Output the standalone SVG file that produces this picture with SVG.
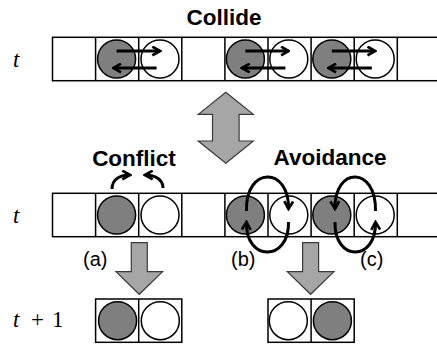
<svg xmlns="http://www.w3.org/2000/svg" width="437" height="345" viewBox="0 0 437 345">
<style>
.cell{fill:#fff;stroke:#000;stroke-width:1.5}
.g{fill:#7f7f7f;stroke:#000;stroke-width:1.5}
.w{fill:#fff;stroke:#000;stroke-width:1.5}
.arr{fill:none;stroke:#000;stroke-width:3}
.big{fill:#a6a6a6;stroke:#3a3a3a;stroke-width:1.2}
.title{font-family:"Liberation Sans",Arial,sans-serif;font-weight:bold;font-size:22.5px;fill:#000}
.lab{font-family:"Liberation Sans",Arial,sans-serif;font-size:20px;fill:#000}
.math{font-family:"Liberation Serif","Times New Roman",serif;font-size:23px;fill:#000}
</style>
<defs>
<marker id="h" viewBox="0 0 10 10" refX="8.5" refY="5" markerWidth="11" markerHeight="11" markerUnits="userSpaceOnUse" orient="auto">
<path d="M1.5,1 L8.5,5 L1.5,9" fill="none" stroke="#000" stroke-width="2.4"/>
</marker>
</defs>

<g id="labels-t">
<text class="math" x="13" y="67" font-style="italic">t</text>
<text class="math" x="13" y="223" font-style="italic">t</text>
<text class="math" x="13" y="327" font-style="italic">t</text>
<text class="math" x="31" y="327">+</text>
<text class="math" x="52" y="327">1</text>
</g>

<g id="titles">
<text class="title" x="224" y="25" text-anchor="middle">Collide</text>
<text class="title" x="134" y="166" text-anchor="middle">Conflict</text>
<text class="title" x="330" y="165" text-anchor="middle">Avoidance</text>
</g>

<g id="row-collide">
<rect class="cell" x="52.5" y="37.3" width="395" height="43.4"/>
<path d="M95.6,37.3V80.7M138.7,37.3V80.7M181.8,37.3V80.7M224.9,37.3V80.7M268,37.3V80.7M311.1,37.3V80.7M354.2,37.3V80.7M397.3,37.3V80.7" stroke="#000" stroke-width="1.5"/>
<circle class="g" cx="116.6" cy="59" r="19"/>
<circle class="w" cx="160" cy="59" r="19"/>
<circle class="g" cx="245.4" cy="59" r="19"/>
<circle class="w" cx="288.8" cy="59" r="19"/>
<circle class="g" cx="331.8" cy="59" r="19"/>
<circle class="w" cx="375.2" cy="59" r="19"/>
</g>

<g id="row-t">
<rect class="cell" x="52.5" y="193.3" width="395" height="43.4"/>
<path d="M95.6,193.3V236.7M138.7,193.3V236.7M181.8,193.3V236.7M224.9,193.3V236.7M268,193.3V236.7M311.1,193.3V236.7M354.2,193.3V236.7M397.3,193.3V236.7" stroke="#000" stroke-width="1.5"/>
<circle class="g" cx="116.6" cy="215" r="19"/>
<circle class="w" cx="160" cy="215" r="19"/>
<circle class="g" cx="245.4" cy="215" r="19"/>
<circle class="w" cx="288.8" cy="215" r="19"/>
<circle class="g" cx="331.8" cy="215" r="19"/>
<circle class="w" cx="375.2" cy="215" r="19"/>
</g>

<g id="result-a">
<rect class="cell" x="95.6" y="299" width="86.2" height="43.3"/>
<path d="M138.7,299V342.3" stroke="#000" stroke-width="1.5"/>
<circle class="g" cx="117.6" cy="320.7" r="19"/>
<circle class="w" cx="160.3" cy="320.7" r="19"/>
</g>

<g id="result-bc">
<rect class="cell" x="268" y="299" width="86.2" height="43.3"/>
<path d="M311.1,299V342.3" stroke="#000" stroke-width="1.5"/>
<circle class="w" cx="288.3" cy="320.7" r="19"/>
<circle class="g" cx="332.4" cy="320.7" r="19"/>
</g>

<g id="case-labels">
<text class="lab" x="83" y="266">(a)</text>
<text class="lab" x="231" y="266">(b)</text>
<text class="lab" x="360" y="266">(c)</text>
</g>

<g id="connectors">
<path class="big" d="M225.8,92.3 L253.3,114.3 L239.1,114.3 L239.1,141 L253.3,141 L225.8,163.3 L198.3,141 L212.5,141 L212.5,114.3 L198.3,114.3 Z"/>
<path class="big" d="M131.3,242.7 H147.3 V271.7 H162.6 L139.3,294.3 L116,271.7 H131.3 Z"/>
<path class="big" d="M302.6,242.7 H318.6 V271.7 H333.9 L310.6,294.3 L287.3,271.7 H302.6 Z"/>

<path class="arr" marker-end="url(#h)" d="M116.6,51 H160"/>
<path class="arr" marker-end="url(#h)" d="M156.6,68 H113.3"/>
<path class="arr" marker-end="url(#h)" d="M245.4,51 H288.8"/>
<path class="arr" marker-end="url(#h)" d="M285.4,68 H242"/>
<path class="arr" marker-end="url(#h)" d="M331.8,51 H375.2"/>
<path class="arr" marker-end="url(#h)" d="M371.8,68 H328.4"/>

<path class="arr" stroke-width="2.6" marker-end="url(#h)" d="M112,189 C112,180 119,175 130,175"/>
<path class="arr" stroke-width="2.6" marker-end="url(#h)" d="M163,188 C163,180 156,175 145,175"/>

<path class="arr" marker-end="url(#h)" d="M246.5,211 C245,166 289.5,166 288.5,209"/>
<path class="arr" marker-end="url(#h)" d="M288.5,222 C289.5,262 245,262 246.5,222"/>
<path class="arr" marker-end="url(#h)" d="M375.5,211 C376.5,166 334,166 335,209"/>
<path class="arr" marker-end="url(#h)" d="M335,222 C334,262 376.5,262 375.5,222"/>
</g>
</svg>
